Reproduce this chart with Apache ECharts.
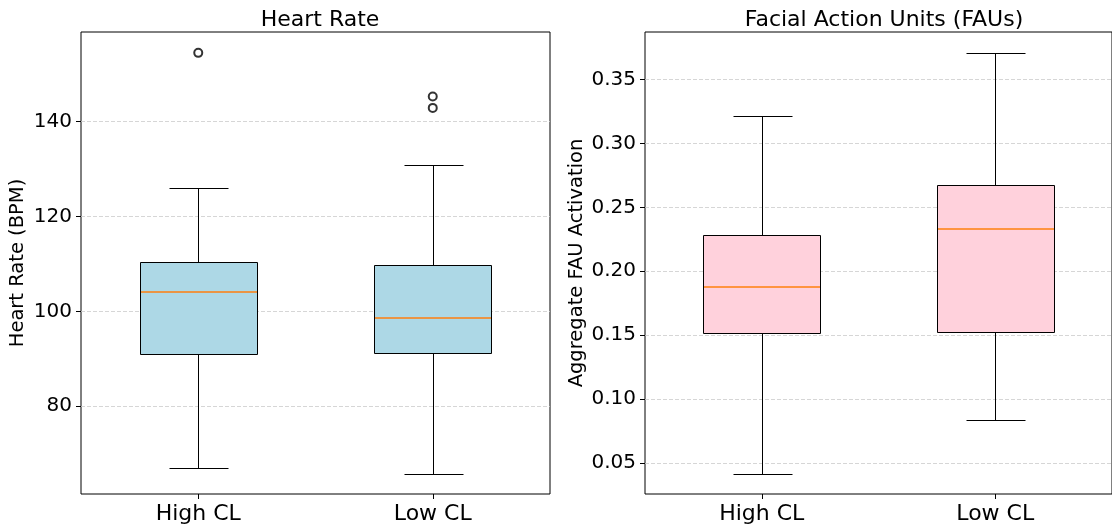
<!DOCTYPE html>
<html>
<head>
<meta charset="utf-8">
<script src="https://cdn.jsdelivr.net/npm/echarts@6/dist/echarts.min.js"></script>
<style>
  html, body { margin: 0; padding: 0; background: #fff; }
  #chart { width: 1112px; height: 530px; }
</style>
</head>
<body>
<div id="chart"></div>
<script>
// Groups shown on both panels
const categories = ['High CL', 'Low CL'];

// Heart rate five-number summaries: [min, Q1, median, Q3, max]
const hrHigh = [67.0, 91.1, 104.1, 110.4, 126.1];
const hrLow  = [65.8, 91.2, 98.6, 109.8, 130.9];
// Heart rate outliers: [group index, value]
const hrOutliers = [[0, 154.5], [1, 145.3], [1, 142.9]];

// Aggregate FAU activation summaries: [min, Q1, median, Q3, max]
const fauHigh = [0.0414, 0.1518, 0.1878, 0.2285, 0.3213];
const fauLow  = [0.0834, 0.1528, 0.2329, 0.2676, 0.3709];

// Tick labels
const hrTicks = [80, 100, 120, 140];
const fauTicks = [0.05, 0.10, 0.15, 0.20, 0.25, 0.30, 0.35];

const FONT = 'DejaVu Sans';

function boxRows(list) {
  return list.map((s, i) => [i].concat(s));
}

// snap a 1px stroke onto the pixel grid so it stays crisp
const snap = v => Math.round(v) + 0.5;

// Box, median, whiskers and half-width caps drawn from the axis scales
function boxRender(fill) {
  return function (params, api) {
    const x = api.value(0);
    const lo = api.coord([x, api.value(1)]);
    const q1 = api.coord([x, api.value(2)]);
    const md = api.coord([x, api.value(3)]);
    const q3 = api.coord([x, api.value(4)]);
    const hi = api.coord([x, api.value(5)]);
    const bw = api.size([1, 0])[0] * 0.5;
    const cw = bw * 0.5;
    const cx = snap(q1[0]);
    const yLo = snap(lo[1]), yQ1 = snap(q1[1]), yQ3 = snap(q3[1]), yHi = snap(hi[1]);
    const bx0 = snap(q1[0] - bw / 2), bx1 = snap(q1[0] + bw / 2);
    const ls = { stroke: '#000', lineWidth: 1 };
    return {
      type: 'group',
      children: [
        { type: 'line', shape: { x1: cx, y1: yQ3, x2: cx, y2: yHi }, style: ls },
        { type: 'line', shape: { x1: cx, y1: yQ1, x2: cx, y2: yLo }, style: ls },
        { type: 'line', shape: { x1: snap(cx - cw / 2), y1: yHi, x2: snap(cx + cw / 2), y2: yHi }, style: ls },
        { type: 'line', shape: { x1: snap(cx - cw / 2), y1: yLo, x2: snap(cx + cw / 2), y2: yLo }, style: ls },
        { type: 'rect', shape: { x: bx0, y: yQ3, width: bx1 - bx0, height: yQ1 - yQ3 },
          style: { fill: fill, stroke: '#000', lineWidth: 1 } },
        { type: 'line', shape: { x1: bx0 + 0.5, y1: Math.round(md[1]), x2: bx1 - 0.5, y2: Math.round(md[1]) },
          style: { stroke: '#ff7f0e', lineWidth: 1.6 } }
      ]
    };
  };
}

function xAxis(gridIndex) {
  return {
    type: 'category', gridIndex: gridIndex, data: categories, boundaryGap: true,
    axisLine: { show: false },
    axisTick: { show: true, alignWithLabel: true, length: 5, inside: false, lineStyle: { color: '#000' } },
    axisLabel: { color: '#000', fontFamily: FONT, fontSize: 22, margin: 9 },
    splitLine: { show: false }
  };
}

function yAxis(gridIndex, min, max, ticks, fmt, name, gap) {
  return {
    type: 'value', gridIndex: gridIndex, min: min, max: max,
    name: name, nameLocation: 'middle', nameGap: gap, nameRotate: 90,
    nameTextStyle: { color: '#000', fontFamily: FONT, fontSize: 19.5 },
    axisLine: { show: false },
    axisTick: { show: true, length: 5, customValues: ticks, lineStyle: { color: '#000' } },
    axisLabel: { color: '#000', fontFamily: FONT, fontSize: 20, margin: 9, customValues: ticks,
                 formatter: fmt },
    splitLine: { show: true, lineStyle: { color: '#cccccc', type: [4, 2], width: 0.8 } }
  };
}

const chart = echarts.init(document.getElementById('chart'), null, { renderer: 'canvas' });

chart.setOption({
  animation: false,
  backgroundColor: '#fff',
  title: [
    { text: 'Heart Rate', left: 315, top: 4, textAlign: 'center',
      textStyle: { fontFamily: FONT, fontSize: 22, fontWeight: 'normal', color: '#000' } },
    { text: 'Facial Action Units (FAUs)', left: 879, top: 4, textAlign: 'center',
      textStyle: { fontFamily: FONT, fontSize: 22, fontWeight: 'normal', color: '#000' } }
  ],
  grid: [
    { left: 81, top: 32, width: 469, height: 462, show: true, borderColor: '#000', borderWidth: 1, backgroundColor: 'transparent' },
    { left: 645, top: 32, width: 469, height: 462, show: true, borderColor: '#000', borderWidth: 1, backgroundColor: 'transparent' }
  ],
  xAxis: [xAxis(0), xAxis(1)],
  yAxis: [
    yAxis(0, 61.5, 158.9, hrTicks, v => String(Math.round(v)), 'Heart Rate (BPM)', 53),
    yAxis(1, 0.0256, 0.3873, fauTicks, v => v.toFixed(2), 'Aggregate FAU Activation', 58)
  ],
  series: [
    { type: 'custom', xAxisIndex: 0, yAxisIndex: 0, renderItem: boxRender('#add8e6'),
      encode: { x: 0, y: [1, 2, 3, 4, 5] }, data: boxRows([hrHigh, hrLow]) },
    { type: 'scatter', xAxisIndex: 0, yAxisIndex: 0, symbol: 'emptyCircle', symbolSize: 8,
      itemStyle: { color: '#000', borderColor: '#000', borderWidth: 1 }, data: hrOutliers },
    { type: 'custom', xAxisIndex: 1, yAxisIndex: 1, renderItem: boxRender('#ffd1dc'),
      encode: { x: 0, y: [1, 2, 3, 4, 5] }, data: boxRows([fauHigh, fauLow]) }
  ]
});
</script>
</body>
</html>
